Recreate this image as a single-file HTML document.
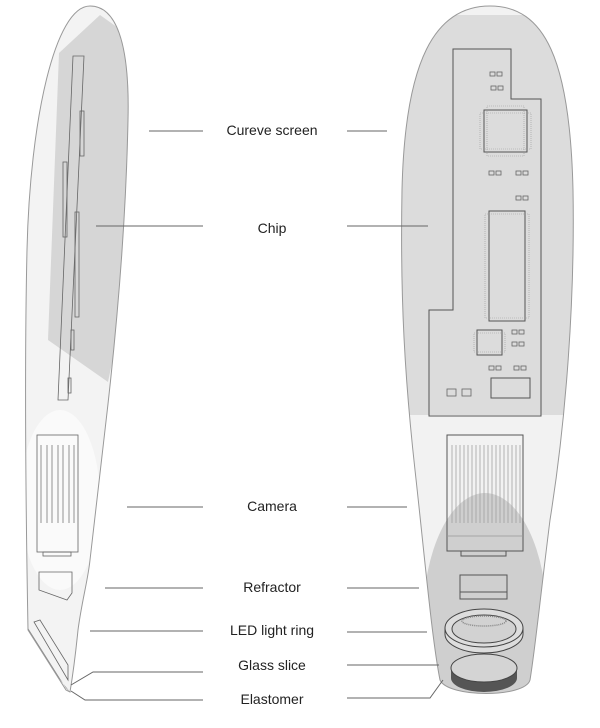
<!DOCTYPE html>
<html><head><style>html,body{margin:0;padding:0;background:#fff;width:600px;height:728px;overflow:hidden}</style></head><body>
<svg width="600" height="728" viewBox="0 0 600 728" xmlns="http://www.w3.org/2000/svg">
<defs>
<clipPath id="rc"><path d="M490,6 C545,6 570,60 573,190 C575,300 566,420 550,520 C540,600 535,650 530,680 C525,698 448,698 440,680 C432,640 425,560 415,470 C405,380 400,300 402,190 C405,60 435,6 490,6 Z"/></clipPath>
<clipPath id="lc"><path d="M90,6 C115,6 130,40 128,120 C126,220 118,320 105,430 C98,490 92,540 90,560 C88,580 82,600 78,630 C75,660 72,680 70,692 L66,690 L28,630 C26,520 24,380 27,250 C30,120 55,6 90,6 Z"/></clipPath>
</defs>
<!-- LEFT DEVICE -->
<g clip-path="url(#lc)">
<rect x="0" y="0" width="200" height="728" fill="#f3f3f3"/>
<polygon points="59,53 100,15 135,40 135,150 125,300 108,382 48,340" fill="#d6d6d6"/>
<ellipse cx="60" cy="500" rx="40" ry="90" fill="#fafafa"/>
<polygon points="28,628 66,688 70,692 28,640" fill="#888"/>
</g>
<path d="M90,6 C115,6 130,40 128,120 C126,220 118,320 105,430 C98,490 92,540 90,560 C88,580 82,600 78,630 C75,660 72,680 70,692 L66,690 L28,630 C26,520 24,380 27,250 C30,120 55,6 90,6 Z" fill="none" stroke="#999" stroke-width="1"/>
<g fill="none" stroke="#666" stroke-width="0.8">
<polygon points="73,56 84,56 68,400 58,400"/>
<rect x="80" y="111" width="4" height="45"/>
<rect x="63" y="162" width="4" height="75"/>
<rect x="75" y="212" width="4" height="105"/>
<rect x="71" y="330" width="3" height="20"/>
<rect x="68" y="378" width="3" height="15"/>
<rect x="37" y="435" width="41" height="117"/>
<rect x="43" y="552" width="28" height="4"/>
<polygon points="39,572 72,572 72,593 67,600 39,590"/>
<polygon points="34,622 40,620 68,665 68,680"/>
</g>
<g stroke="#777" stroke-width="0.8">
<line x1="41" y1="445" x2="41" y2="523"/><line x1="47" y1="445" x2="47" y2="523"/><line x1="52" y1="445" x2="52" y2="523"/><line x1="58" y1="445" x2="58" y2="523"/><line x1="63" y1="445" x2="63" y2="523"/><line x1="69" y1="445" x2="69" y2="523"/><line x1="74" y1="445" x2="74" y2="523"/>
</g>
<!-- RIGHT DEVICE -->
<g clip-path="url(#rc)">
<rect x="380" y="0" width="220" height="728" fill="#f2f2f2"/>
<rect x="380" y="15" width="220" height="400" fill="#dcdcdc"/>
<ellipse cx="485" cy="620" rx="62" ry="127" fill="#cfcfcf"/>
</g>
<path d="M490,6 C545,6 570,60 573,190 C575,300 566,420 550,520 C540,600 535,650 530,680 C525,698 448,698 440,680 C432,640 425,560 415,470 C405,380 400,300 402,190 C405,60 435,6 490,6 Z" fill="none" stroke="#999" stroke-width="1"/>
<g fill="none" stroke="#555" stroke-width="1">
<polygon points="453,49 511,49 511,99 541,99 541,416 429,416 429,310 453,310"/>
<rect x="484" y="110" width="43" height="42"/>
<rect x="489" y="211" width="36" height="110"/>
<rect x="477" y="330" width="25" height="25"/>
<rect x="491" y="378" width="39" height="20"/>
</g>
<g fill="none" stroke="#999" stroke-width="0.6">
<rect x="480" y="113" width="51" height="36" stroke-dasharray="1,1"/>
<rect x="487" y="106" width="37" height="50" stroke-dasharray="1,1"/>
<rect x="485" y="214" width="44" height="104" stroke-dasharray="1,1"/>
<rect x="474" y="333" width="31" height="19" stroke-dasharray="1,1"/>
</g>
<g fill="none" stroke="#666" stroke-width="0.8">
<rect x="490" y="72" width="5" height="4"/><rect x="497" y="72" width="5" height="4"/>
<rect x="491" y="86" width="5" height="4"/><rect x="498" y="86" width="5" height="4"/>
<rect x="489" y="171" width="5" height="4"/><rect x="496" y="171" width="5" height="4"/>
<rect x="516" y="171" width="5" height="4"/><rect x="523" y="171" width="5" height="4"/>
<rect x="516" y="196" width="5" height="4"/><rect x="523" y="196" width="5" height="4"/>
<rect x="512" y="330" width="5" height="4"/><rect x="519" y="330" width="5" height="4"/>
<rect x="512" y="342" width="5" height="4"/><rect x="519" y="342" width="5" height="4"/>
<rect x="489" y="366" width="5" height="4"/><rect x="496" y="366" width="5" height="4"/>
<rect x="514" y="366" width="5" height="4"/><rect x="521" y="366" width="5" height="4"/>
<rect x="447" y="389" width="9" height="7"/><rect x="462" y="389" width="9" height="7"/>
</g>
<g fill="none" stroke="#555" stroke-width="1">
<rect x="447" y="435" width="76" height="116"/>
<rect x="461" y="551" width="45" height="5"/>
<rect x="460" y="575" width="47" height="24"/><line x1="460" y1="592" x2="507" y2="592"/>
</g>
<g stroke="#999" stroke-width="0.7">
<line x1="452" y1="445" x2="452" y2="523"/><line x1="456" y1="445" x2="456" y2="523"/><line x1="460" y1="445" x2="460" y2="523"/><line x1="464" y1="445" x2="464" y2="523"/><line x1="468" y1="445" x2="468" y2="523"/><line x1="472" y1="445" x2="472" y2="523"/><line x1="476" y1="445" x2="476" y2="523"/><line x1="480" y1="445" x2="480" y2="523"/><line x1="484" y1="445" x2="484" y2="523"/><line x1="488" y1="445" x2="488" y2="523"/><line x1="492" y1="445" x2="492" y2="523"/><line x1="496" y1="445" x2="496" y2="523"/><line x1="500" y1="445" x2="500" y2="523"/><line x1="504" y1="445" x2="504" y2="523"/><line x1="508" y1="445" x2="508" y2="523"/><line x1="512" y1="445" x2="512" y2="523"/><line x1="516" y1="445" x2="516" y2="523"/><line x1="520" y1="445" x2="520" y2="523"/>
<line x1="447" y1="536" x2="523" y2="536"/>
</g>
<!-- glass / elastomer -->
<path d="M451,668 L451,678 A33,14 0 0 0 517,678 L517,668 Z" fill="#555"/>
<ellipse cx="484" cy="668" rx="33" ry="14" fill="#d4d4d4" stroke="#444" stroke-width="1"/>
<!-- LED ring -->
<path d="M445,628 L445,634 A39,19 0 0 0 523,634 L523,628" fill="#ddd" stroke="#444" stroke-width="1"/>
<ellipse cx="484" cy="628" rx="39" ry="19" fill="#ddd" stroke="#444" stroke-width="1"/>
<ellipse cx="484" cy="629" rx="32" ry="14" fill="#d2d2d2" stroke="#444" stroke-width="1"/>
<ellipse cx="484" cy="621" rx="22" ry="5" fill="none" stroke="#888" stroke-width="1.5" stroke-dasharray="1,1"/>
<!-- labels -->
<g font-family="'Liberation Sans', sans-serif" font-size="14" fill="#222" text-anchor="middle">
<text x="272" y="135">Cureve screen</text>
<text x="272" y="233">Chip</text>
<text x="272" y="511">Camera</text>
<text x="272" y="592">Refractor</text>
<text x="272" y="635">LED light ring</text>
<text x="272" y="670">Glass slice</text>
<text x="272" y="704">Elastomer</text>
</g>
<g fill="none" stroke="#666" stroke-width="1">
<line x1="149" y1="131" x2="203" y2="131"/><line x1="347" y1="131" x2="387" y2="131"/>
<line x1="96" y1="226" x2="203" y2="226"/><line x1="347" y1="226" x2="428" y2="226"/>
<line x1="127" y1="507" x2="203" y2="507"/><line x1="347" y1="507" x2="407" y2="507"/>
<line x1="105" y1="588" x2="203" y2="588"/><line x1="347" y1="588" x2="419" y2="588"/>
<line x1="90" y1="631" x2="203" y2="631"/><line x1="347" y1="632" x2="427" y2="632"/>
<polyline points="71,685 93,672 203,672"/><line x1="347" y1="665" x2="439" y2="665"/>
<polyline points="71,691 85,700 203,700"/><polyline points="347,698 430,698 443,680"/>
</g>
</svg>
</body></html>
